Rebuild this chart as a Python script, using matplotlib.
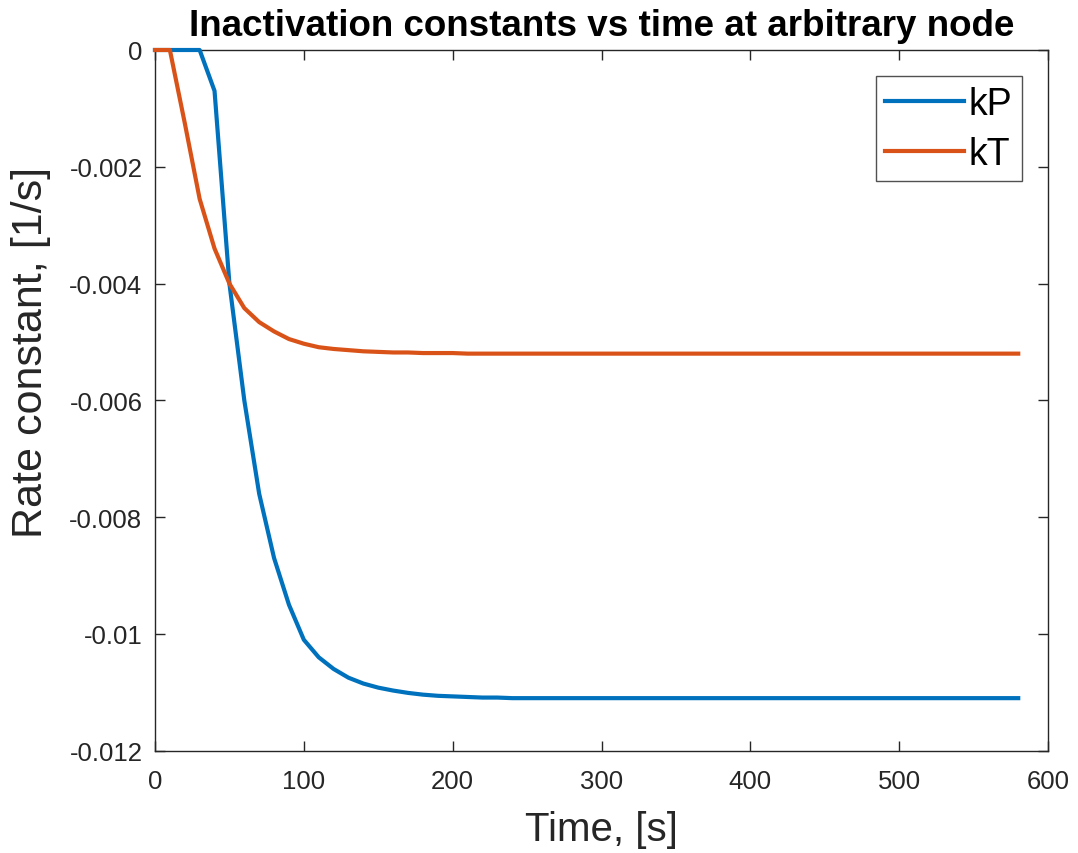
import matplotlib
matplotlib.use("Agg")
import matplotlib.pyplot as plt

plt.rcParams['font.family'] = ['Liberation Sans', 'DejaVu Sans']

time_s = [0, 10, 20, 30, 40, 50, 60, 70, 80, 90, 100, 110, 120, 130, 140, 150,
          160, 170, 180, 190, 200, 210, 220, 230, 240, 260, 300, 350, 400, 450,
          500, 550, 580]

kP = [0, 0, 0, 0, -0.0007, -0.0040, -0.0060, -0.0076, -0.0087, -0.0095,
      -0.0101, -0.0104, -0.0106, -0.01075, -0.01085, -0.01092, -0.01097,
      -0.01101, -0.01104, -0.01106, -0.01107, -0.01108, -0.01109, -0.01109,
      -0.0111, -0.0111, -0.0111, -0.0111, -0.0111, -0.0111, -0.0111, -0.0111,
      -0.0111]

kT = [0, 0, -0.00125, -0.00255, -0.00340, -0.00400, -0.00442, -0.00466,
      -0.00482, -0.00495, -0.00503, -0.00509, -0.00512, -0.00514, -0.00516,
      -0.00517, -0.00518, -0.00518, -0.00519, -0.00519, -0.00519, -0.0052,
      -0.0052, -0.0052, -0.0052, -0.0052, -0.0052, -0.0052, -0.0052, -0.0052,
      -0.0052, -0.0052, -0.0052]

x_ticks = [0, 100, 200, 300, 400, 500, 600]
y_ticks = [-0.012, -0.01, -0.008, -0.006, -0.004, -0.002, 0]
y_tick_labels = ['-0.012', '-0.01', '-0.008', '-0.006', '-0.004', '-0.002', '0']

fig = plt.figure(figsize=(10.78, 8.54), dpi=100)
ax = fig.add_axes([155/1078, 1-751.7/854, (1048-155)/1078, (751.7-51)/854])

ax.plot(time_s, kP, color='#0072BD', lw=3, label='kP', clip_on=False, zorder=5)
ax.plot(time_s, kT, color='#D95319', lw=3, label='kT', clip_on=False, zorder=5)

ax.set_xlim(0, 600)
ax.set_ylim(-0.012, 0)
ax.set_xticks(x_ticks)
ax.set_yticks(y_ticks)
ax.set_yticklabels(y_tick_labels)

gray = '#262626'
for s in ax.spines.values():
    s.set_color(gray)
    s.set_linewidth(1.0)
ax.tick_params(direction='in', top=True, right=True, length=7, width=1,
               colors=gray, labelsize=18.5)
ax.tick_params(axis='x', pad=13)
ax.tick_params(axis='y', pad=9)
for lab in ax.get_xticklabels() + ax.get_yticklabels():
    lab.set_color(gray)

ax.set_title('Inactivation constants vs time at arbitrary node',
             fontsize=26.5, fontweight='bold', color='black', pad=11)
ax.set_xlabel('Time, [s]', fontsize=29, color=gray)
ax.xaxis.set_label_coords(0.5, -0.085)
ax.set_ylabel('Rate constant, [1/s]', fontsize=31, color=gray)
ax.yaxis.set_label_coords(-0.117, 0.57)

leg = ax.legend(loc='upper right', fontsize=27, frameon=True, fancybox=False,
                edgecolor=gray, handlelength=2.1, handletextpad=0.12,
                borderpad=0.25, labelspacing=0.38, borderaxespad=0.7)
leg.get_frame().set_linewidth(1.0)
leg.set_zorder(10)

fig.savefig('out.png', dpi=100, facecolor='white')
